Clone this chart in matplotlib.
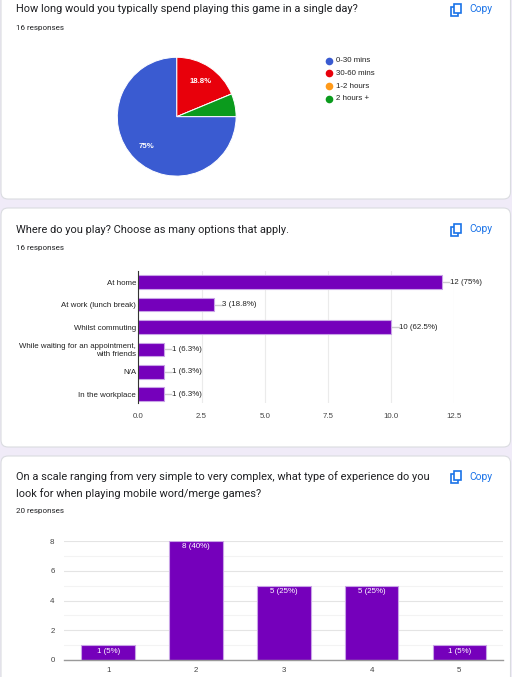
import matplotlib
matplotlib.use("Agg")
import matplotlib.pyplot as plt
from matplotlib.patches import FancyBboxPatch, Rectangle
import numpy as np

# ---------------- data ----------------
pie_title = "How long would you typically spend playing this game in a single day?"
pie_responses = "16 responses"
pie_categories = ["0-30 mins", "30-60 mins", "1-2 hours", "2 hours +"]
pie_counts = [12, 3, 0, 1]
pie_colors = ["#3a5bd1", "#e8000b", "#ff9a1a", "#0b9b1d"]

bar_title = "Where do you play? Choose as many options that apply."
bar_responses = "16 responses"
bar_categories = ["At home", "At work (lunch break)", "Whilst commuting",
                  "While waiting for an appointment,\nwith friends", "N/A", "In the workplace"]
bar_counts = [12, 3, 10, 1, 1, 1]
bar_labels = ["12 (75%)", "3 (18.8%)", "10 (62.5%)", "1 (6.3%)", "1 (6.3%)", "1 (6.3%)"]
bar_ticks = [0.0, 2.5, 5.0, 7.5, 10.0, 12.5]

col_title = ("On a scale ranging from very simple to very complex, what type of experience do you\n"
             "look for when playing mobile word/merge games?")
col_responses = "20 responses"
col_categories = ["1", "2", "3", "4", "5"]
col_counts = [1, 8, 5, 5, 1]
col_labels = ["1 (5%)", "8 (40%)", "5 (25%)", "5 (25%)", "1 (5%)"]
col_yticks = [0, 2, 4, 6, 8]

# ---------------- style ----------------
W, H = 512, 677
PURPLE = "#7500bb"
PURPLE_EDGE = "#c8a3e6"
TITLE_FONT = ["Roboto", "DejaVu Sans"]
CHART_FONT = ["Liberation Sans", "DejaVu Sans"]
COPY_BLUE = "#1a73e8"
FS = 5.7  # chart text size

fig = plt.figure(figsize=(W / 100, H / 100), dpi=100)
fig.patch.set_facecolor("#f0ebf8")

bg = fig.add_axes([0, 0, 1, 1])
bg.set_xlim(0, W)
bg.set_ylim(H, 0)
bg.axis("off")

def card(y0, y1):
    p = FancyBboxPatch((1, y0), W - 2.5, y1 - y0,
                       boxstyle="round,pad=0,rounding_size=7",
                       facecolor="white", edgecolor="#dadce0", linewidth=0.8)
    bg.add_patch(p)

card(-20, 199)
card(208, 447)
card(456, 700)

def copy_button(yc):
    bg.add_patch(Rectangle((450.5, yc - 3.0), 7.5, 9.5, fill=False,
                           edgecolor=COPY_BLUE, linewidth=1.2))
    bg.add_patch(Rectangle((453.5, yc - 6.0), 7.5, 9.5, facecolor="white",
                           edgecolor=COPY_BLUE, linewidth=1.2))
    bg.text(469, yc, "Copy", color=COPY_BLUE, fontsize=7.4, va="center",
            ha="left", family=TITLE_FONT)

def header(y_title, title, y_resp, resp):
    bg.text(16.5, y_title, title, fontsize=7.9, color="#202124", va="center",
            ha="left", family=TITLE_FONT, linespacing=1.6)
    bg.text(16.5, y_resp, resp, fontsize=5.8, color="#202124", va="center",
            ha="left", family=TITLE_FONT)

# ---------------- card 1: pie ----------------
header(9.5, pie_title, 28, pie_responses)
copy_button(9.5)

def px_axes(left, top, width, height):
    return fig.add_axes([left / W, 1 - (top + height) / H, width / W, height / H])

pax = px_axes(116.7, 56.7, 120, 120)
order = [1, 2, 3, 0]  # drawing order as in the reference (clockwise from 12 o'clock)
vals = [pie_counts[i] for i in order]
cols = [pie_colors[i] for i in order]
total = sum(pie_counts)
wedges, _ = pax.pie(vals, colors=cols, startangle=90, counterclock=False, radius=1,
                    wedgeprops=dict(edgecolor="white", linewidth=0.7))
pax.set_xlim(-1.01, 1.01)
pax.set_ylim(-1.01, 1.01)
pax.set_aspect("equal")
ang = 90.0
for v in vals:
    sweep = 360.0 * v / total
    mid = np.deg2rad(ang - sweep / 2)
    ang -= sweep
    pct = 100.0 * v / total
    if pct >= 10:
        s = f"{pct:.1f}%".replace(".0%", "%")
        pax.text(0.71 * np.cos(mid), 0.71 * np.sin(mid), s, color="white",
                 fontsize=5.6, fontweight="bold", ha="center", va="center",
                 family=CHART_FONT)

# legend
for i, (lab, c) in enumerate(zip(pie_categories, pie_colors)):
    y = 60.5 + i * 12.8
    bg.plot([328.8], [y], marker="o", markersize=5.5, color=c, markeredgewidth=0)
    bg.text(335.8, y, lab, fontsize=FS, color="#222222", va="center", ha="left",
            family=CHART_FONT)

# ---------------- card 2: horizontal bar ----------------
header(230, bar_title, 248.3, bar_responses)
copy_button(229.5)

bax = px_axes(138.3, 271, 316, 132.3)
y = np.arange(len(bar_categories))
bax.barh(y, bar_counts, height=0.61, color=PURPLE, edgecolor=PURPLE_EDGE,
         linewidth=0.8, zorder=3)
bax.set_xlim(0, 12.5)
bax.set_ylim(5.4, -0.5)
bax.set_xticks(bar_ticks)
bax.set_xticklabels([f"{t:.1f}" for t in bar_ticks])
bax.set_yticks(y)
bax.set_yticklabels(bar_categories, linespacing=1.1)
bax.grid(axis="x", color="#ebebeb", linewidth=0.8, zorder=0)
for s in ["top", "right", "bottom"]:
    bax.spines[s].set_visible(False)
bax.spines["left"].set_color("#333333")
bax.spines["left"].set_linewidth(0.8)
bax.spines["left"].set_zorder(4)
bax.tick_params(length=0, labelsize=FS, labelcolor="#222222", pad=1.5)
bax.tick_params(axis="x", pad=7, labelcolor="#444444")
for lab in bax.get_xticklabels() + bax.get_yticklabels():
    lab.set_family(CHART_FONT)
for yi, v, lab in zip(y, bar_counts, bar_labels):
    bax.plot([v, v + 0.3], [yi, yi], color="#cccccc", linewidth=1.0, zorder=2,
             clip_on=False)
    bax.text(v + 0.32, yi, lab, fontsize=FS, color="#222222", va="center",
             ha="left", family=CHART_FONT)

# ---------------- card 3: column chart ----------------
header(485, col_title, 511, col_responses)
copy_button(476.5)

cax = px_axes(64.3, 541, 439, 119)
x = np.arange(len(col_categories))
cax.bar(x, col_counts, width=0.61, color=PURPLE, edgecolor=PURPLE_EDGE,
        linewidth=0.8, zorder=3)
cax.set_xlim(-0.5, 4.5)
cax.set_ylim(0, 8)
cax.set_yticks(col_yticks)
cax.set_yticks([1, 3, 5, 7], minor=True)
cax.set_xticks(x)
cax.set_xticklabels(col_categories)
cax.grid(axis="y", which="major", color="#e4e4e4", linewidth=0.8, zorder=0)
cax.grid(axis="y", which="minor", color="#f3f3f3", linewidth=0.8, zorder=0)
for s in ["top", "right", "left"]:
    cax.spines[s].set_visible(False)
cax.spines["bottom"].set_color("#9a9a9a")
cax.spines["bottom"].set_linewidth(1.0)
cax.spines["bottom"].set_zorder(4)
cax.tick_params(which="both", length=0, labelsize=FS, labelcolor="#444444")
cax.tick_params(axis="y", pad=7)
cax.tick_params(axis="x", pad=5)
for lab in cax.get_xticklabels() + cax.get_yticklabels():
    lab.set_family(CHART_FONT)
for xi, v, lab in zip(x, col_counts, col_labels):
    cax.annotate(lab, (xi, v), xytext=(0, -4.3), textcoords="offset points",
                 ha="center", va="center", color="white", fontsize=FS,
                 family=CHART_FONT, zorder=5)

fig.savefig("out.png", dpi=100, facecolor=fig.get_facecolor())
